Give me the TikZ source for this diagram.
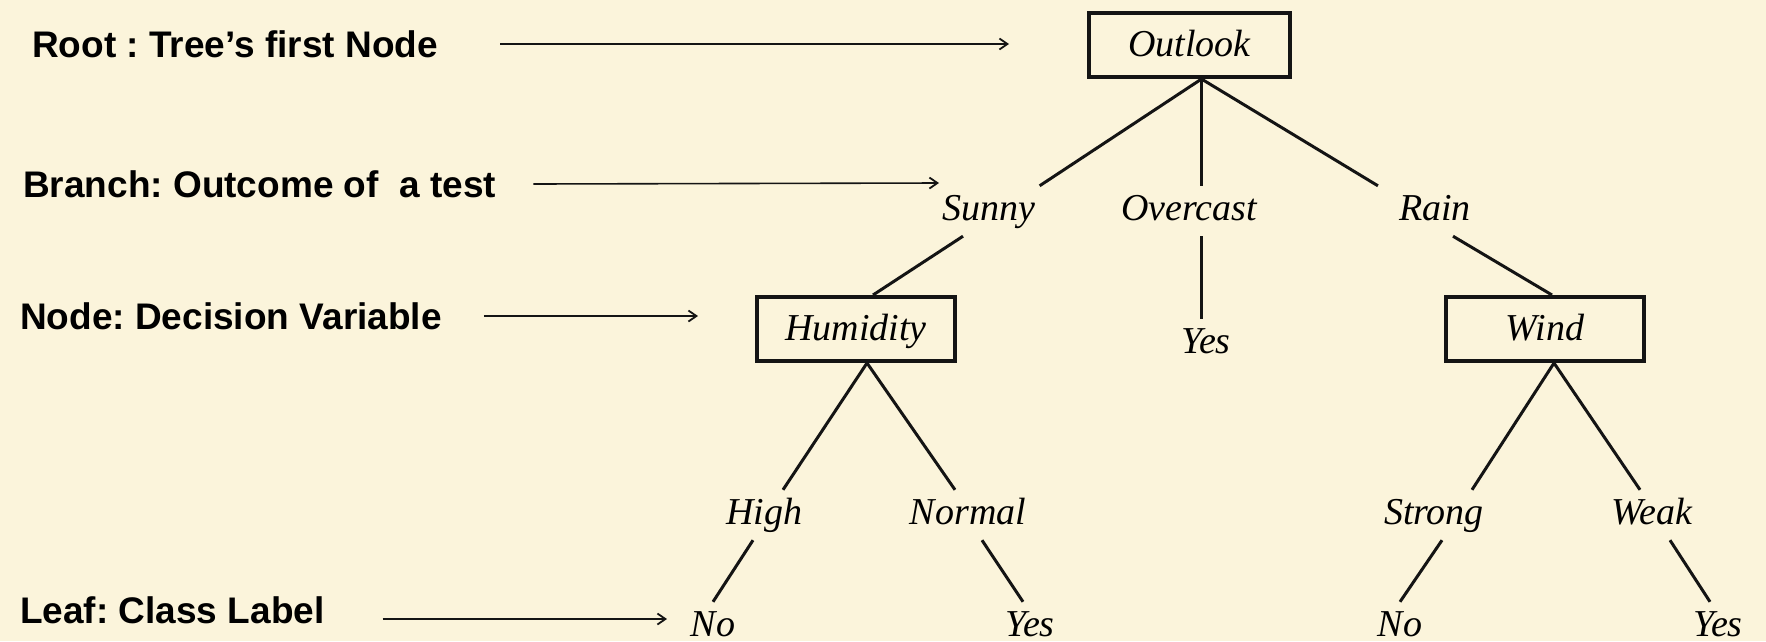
\documentclass[tikz,border=0pt]{standalone}
\usepackage{fontspec}
\newfontfamily\treefont{Liberation Serif}
\newfontfamily\labelfont{Liberation Sans}
\usetikzlibrary{arrows.meta}
\definecolor{parchment}{RGB}{251,244,219}
\definecolor{ink}{RGB}{20,20,20}
\frenchspacing
\begin{document}
\begin{tikzpicture}[x=1pt,y=-1pt,
  word/.style={font=\treefont\itshape\fontsize{38}{40}\selectfont,
    text height=26pt, text depth=8pt, inner xsep=4pt, inner ysep=8pt, anchor=base},
  testbox/.style={word, draw=ink, line width=4pt, minimum width=198pt,
    minimum height=64pt, inner ysep=0pt, text height=30pt, anchor=center},
  edge/.style={draw=ink, line width=3pt},
  caption/.style={font=\labelfont\bfseries\fontsize{37}{40}\selectfont,
    text height=26pt, text depth=0pt, inner sep=0pt, anchor=base west},
  pointer/.style={draw=ink, line width=1.6pt,
    -{Straight Barb[length=8pt,width=11pt,line width=1.8pt]}}]

% page and paper
\useasboundingbox (0,0) rectangle (1766,641);
\fill[parchment] (0,0) rectangle (1766,641);

% captions on the left
\node[caption] (root)     at (32,57)  {Root : Tree’s first Node};
\node[caption] (branch)   at (23,197) {Branch: Outcome of \ a test};
\node[caption] (decision) at (20,329) {Node: Decision Variable};
\node[caption] (leaf)     at (20,623) {Leaf: Class Label};

% the decision tree
\node[testbox, minimum width=201pt] (outlook) at (1189.5,45) {Outlook};
\coordinate (fork) at ([xshift=12pt]outlook.south);

\node[word] (sunny)    at (989,220)  {Sunny};
\node[word] (overcast) at (1189,220) {Overcast};
\node[word] (rain)     at (1435,220) {Rain};

\node[testbox] (humidity) at (856,329)  {Humidity};
\node[word]    (yesA)     at (1206,353) {Yes};
\node[testbox] (wind)     at (1545,329) {Wind};

\node[word] (high)   at (764,524)  {High};
\node[word] (normal) at (968,524)  {Normal};
\node[word] (strong) at (1434,524) {Strong};
\node[word] (weak)   at (1652,524) {Weak};

\node[word] (noA)  at (713,636)  {No};
\node[word] (yesB) at (1030,636) {Yes};
\node[word] (noB)  at (1400,636) {No};
\node[word] (yesC) at (1718,636) {Yes};

% branches
\draw[edge] (fork) -- (sunny.north east);
\draw[edge] (fork) -- (fork |- overcast.north);
\draw[edge] (fork) -- ([xshift=-17pt]rain.north west);
\draw[edge] (fork |- overcast.south) -- (fork |- yesA.north);
\draw[edge] ([xshift=-26pt]sunny.south) -- ([xshift=17pt]humidity.north);
\draw[edge] ([xshift=18pt]rain.south) -- ([xshift=7pt]wind.north);
\draw[edge] ([xshift=11pt]humidity.south) -- ([xshift=19pt]high.north);
\draw[edge] ([xshift=11pt]humidity.south) -- ([xshift=-13pt]normal.north);
\draw[edge] ([xshift=9pt]wind.south) -- ([xshift=38pt]strong.north);
\draw[edge] ([xshift=9pt]wind.south) -- ([xshift=-12pt]weak.north);
\draw[edge] ([xshift=-11pt]high.south) -- (noA.north);
\draw[edge] ([xshift=14pt]normal.south) -- ([xshift=-7pt]yesB.north);
\draw[edge] ([xshift=8pt]strong.south) -- (noB.north);
\draw[edge] ([xshift=18pt]weak.south) -- ([xshift=-8pt]yesC.north);

% pointers from captions
\coordinate (rootTip)     at (1009,44);
\coordinate (branchTip)   at (939,183);
\coordinate (decisionTip) at (698,316);
\coordinate (leafTip)     at (667,619);
\draw[pointer] ([xshift=62pt]root.east) -- (rootTip);
\draw[pointer] ([xshift=37pt]branch.east) -- (branchTip);
\draw[pointer] ([xshift=42pt]decision.east) -- (decisionTip);
\draw[pointer] ([xshift=58pt,yshift=-9pt]leaf.east) -- (leafTip);
\end{tikzpicture}
\end{document}
